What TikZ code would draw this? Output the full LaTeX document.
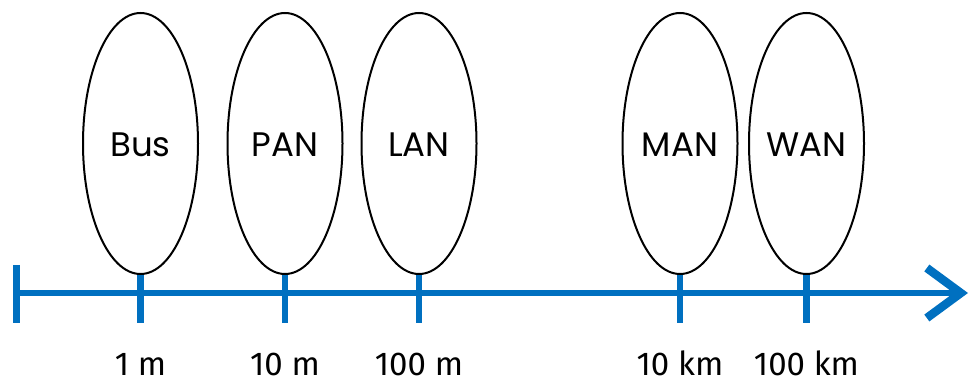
\documentclass[tikz,border=0pt]{standalone}
\usepackage{fontspec}
\setmainfont{Poppins}
\newfontfamily\scalefont{Fira Sans}
\usetikzlibrary{arrows.meta,shapes.geometric}
\definecolor{axisblue}{HTML}{0070C0}
\tikzset{
  netscope/.style={draw=black, line width=2pt, ellipse, minimum width=115pt, minimum height=261pt, inner sep=0pt},
  netname/.style={font=\fontsize{34}{34}\selectfont, anchor=base},
  axisline/.style={draw=axisblue, line width=6pt},
  tickmark/.style={draw=axisblue, line width=6.5pt},
  dist/.style={font=\scalefont\fontsize{33}{33}\selectfont, anchor=base, inner sep=0pt},
}
\begin{document}
\begin{tikzpicture}[x=1pt,y=-1pt]
\useasboundingbox (0,0) rectangle (970,382);
% network scopes
\foreach \nm/\x/\lab in {bus/140.5/Bus, pan/285/PAN, lan/419/LAN, man/680/MAN, wan/806.5/WAN}{
  \node[netscope] (\nm) at (\x,143.5) {};
  \node[netname] (\nm-t) at (\x,157) {\lab};
  \coordinate (\nm-lo) at (\x,323);
  \draw[tickmark] (\nm.south) -- (\nm-lo);
}
% distance axis
\coordinate (ax0) at (13,293);
\coordinate (ax1) at (968,293);
\coordinate (t0a) at (16.5,265);
\coordinate (t0b) at (16.5,323);
\draw[tickmark, line width=7pt] (t0a) -- (t0b);
\draw[axisline, -{Straight Barb[length=34pt,width=50pt,line width=8.5pt,line cap=butt,line join=miter]}] (ax0) -- (ax1);
% distance labels
\node[dist] (d1) at (140.5,375) {1 m};
\node[dist] (d2) at (285,375) {10 m};
\node[dist] (d3) at (419,375) {100 m};
\node[dist] (d4) at (680,375) {10 km};
\node[dist] (d5) at (806.5,375) {100 km};
\end{tikzpicture}
\end{document}
